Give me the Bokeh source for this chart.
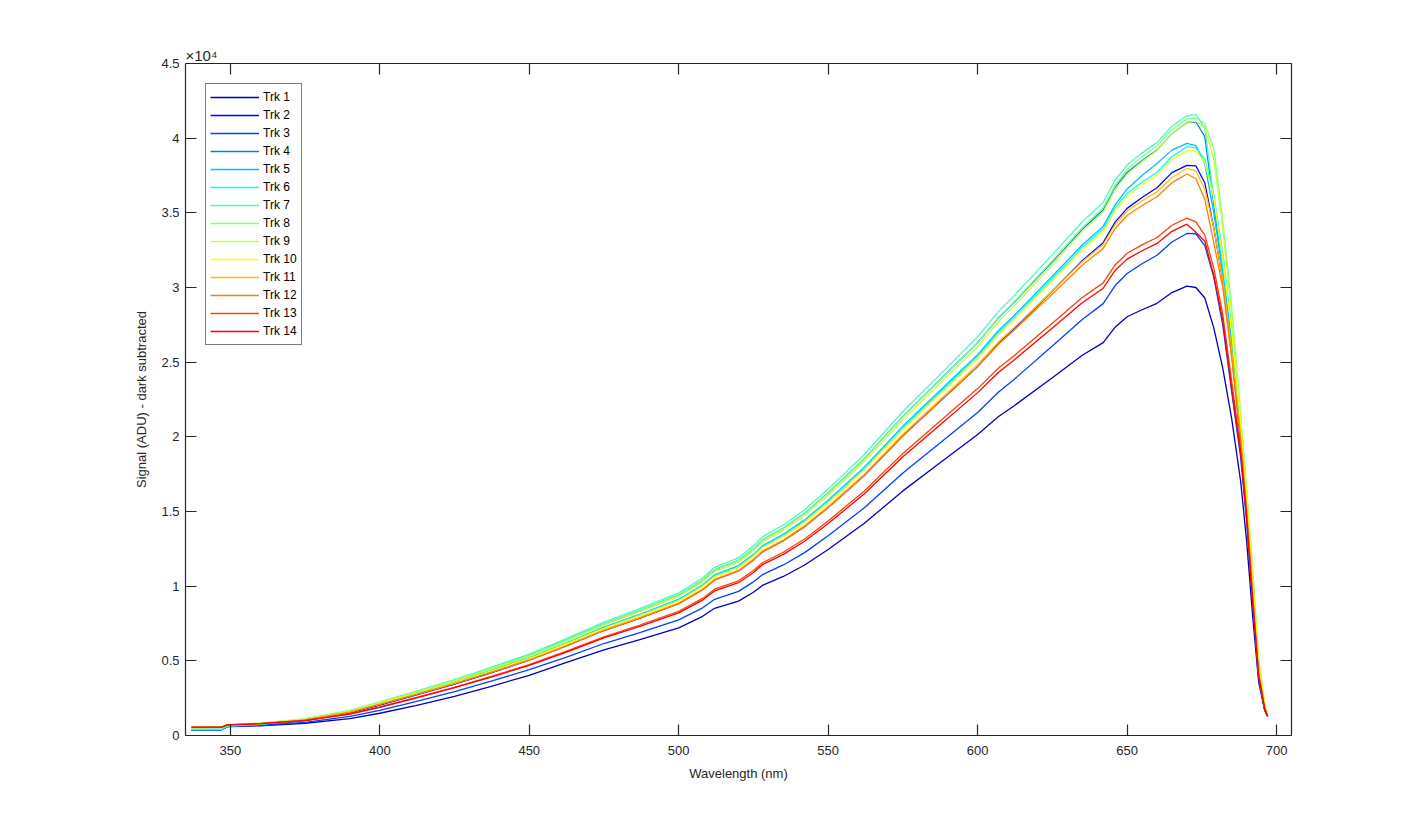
from bokeh.plotting import figure
from bokeh.models import LinearAxis, FixedTicker, Legend, LegendItem, Range1d, Title
from bokeh.embed import file_html
from bokeh.resources import INLINE

wl = [337, 347, 349, 360, 375, 390, 400, 412, 425, 437, 450, 462, 475, 487, 500, 508, 512, 520, 525, 528,
      535, 542, 550, 562, 575, 587, 600, 607, 612, 625, 635, 642, 646, 650, 655, 660, 665, 670,
      673, 676, 679, 682, 685, 688, 690, 692, 694, 696, 697]

trk1 = [375, 385, 590, 650, 820, 1130, 1490, 2000, 2620, 3280, 4030, 4870, 5740, 6420, 7210, 7980, 8520, 9000, 9590, 10050,
        10650, 11400, 12460, 14190, 16380, 18200, 20160, 21360, 22050, 23960, 25460, 26310, 27340, 28040, 28510, 28940, 29660, 30090,
        30000, 29300, 27300, 24600, 21200, 17000, 13000, 8000, 3600, 1700, 1250]
trk2 = [380, 390, 610, 720, 1000, 1520, 2040, 2700, 3440, 4180, 5040, 5970, 7030, 7860, 8830, 9760, 10420, 11020, 11750, 12300,
        13040, 13970, 15260, 17390, 20070, 22290, 24700, 26260, 27190, 29770, 31800, 33000, 34380, 35300, 36030, 36680, 37690, 38180,
        38150, 37000, 34000, 30500, 25500, 19700, 15000, 9400, 4100, 1800, 1300]
trk3 = [385, 395, 600, 680, 880, 1280, 1690, 2270, 2940, 3620, 4410, 5220, 6160, 6890, 7740, 8550, 9120, 9650, 10290, 10770,
        11420, 12230, 13370, 15230, 17580, 19520, 21630, 23000, 23810, 26080, 27860, 28920, 30130, 30940, 31590, 32160, 33050, 33620,
        33600, 32800, 30700, 27500, 23000, 18600, 14300, 8900, 3900, 1750, 1280]
trk4 = [390, 400, 640, 760, 1080, 1640, 2200, 2900, 3690, 4480, 5370, 6350, 7490, 8370, 9410, 10390, 11090, 11730, 12510, 13100,
        13890, 14870, 16250, 18520, 21370, 23740, 26300, 27980, 28960, 31720, 33900, 35190, 36700, 37700, 38500, 39200, 40300, 41050,
        41100, 40100, 35600, 31200, 26500, 20700, 16000, 10200, 4500, 1950, 1350]
trk5 = [390, 400, 630, 740, 1050, 1580, 2130, 2800, 3580, 4350, 5200, 6160, 7260, 8120, 9120, 10080, 10760, 11380, 12130, 12700,
        13470, 14420, 15760, 17950, 20720, 23020, 25500, 27120, 28080, 30750, 32850, 34090, 35530, 36600, 37500, 38300, 39200, 39650,
        39500, 38300, 35000, 31000, 26000, 20200, 15500, 9900, 4400, 1900, 1300]
trk6 = [400, 410, 630, 740, 1050, 1580, 2120, 2790, 3560, 4320, 5180, 6130, 7220, 8080, 9070, 10030, 10700, 11310, 12070, 12640,
        13400, 14350, 15680, 17860, 20620, 22900, 25370, 26980, 27930, 30590, 32680, 33920, 35340, 36290, 37050, 37720, 38760, 39430,
        39350, 38600, 36200, 32300, 27300, 21000, 16300, 10500, 4700, 2000, 1350]
trk7 = [450, 460, 680, 800, 1120, 1680, 2250, 2950, 3750, 4550, 5450, 6450, 7600, 8500, 9550, 10550, 11260, 11900, 12700, 13300,
        14100, 15100, 16500, 18800, 21700, 24100, 26700, 28400, 29400, 32200, 34400, 35700, 37200, 38200, 39000, 39700, 40800, 41500,
        41600, 40700, 36000, 31500, 27000, 21000, 16200, 10400, 4600, 2000, 1350]
trk8 = [540, 550, 720, 830, 1110, 1660, 2220, 2910, 3690, 4480, 5370, 6350, 7490, 8370, 9410, 10390, 11090, 11730, 12510, 13100,
        13890, 14870, 16250, 18520, 21370, 23740, 26300, 28000, 29000, 31800, 34000, 35350, 36850, 37900, 38750, 39480, 40580, 41290,
        41350, 41000, 39300, 34500, 28700, 21500, 16500, 11200, 5200, 2200, 1400]
trk9 = [545, 555, 725, 830, 1100, 1650, 2200, 2880, 3660, 4440, 5310, 6290, 7410, 8290, 9310, 10290, 10980, 11600, 12380, 12970,
        13750, 14720, 16090, 18330, 21160, 23500, 26030, 27720, 28720, 31520, 33740, 35060, 36560, 37590, 38430, 39180, 40300, 41060,
        41150, 40700, 38600, 34000, 28300, 21300, 16400, 11000, 5100, 2200, 1400]
trk10 = [530, 540, 700, 800, 1070, 1600, 2140, 2790, 3540, 4300, 5150, 6100, 7180, 8030, 9020, 9970, 10640, 11250, 12000, 12570,
         13320, 14270, 15590, 17770, 20510, 22770, 25230, 26840, 27780, 30430, 32510, 33740, 35150, 36100, 36860, 37520, 38560, 39140,
         39150, 38400, 36000, 32000, 27000, 20800, 16000, 10200, 4600, 2000, 1350]
trk11 = [535, 545, 700, 790, 1050, 1570, 2100, 2750, 3490, 4230, 5070, 6000, 7070, 7910, 8880, 9810, 10470, 11070, 11810, 12370,
         13110, 14040, 15350, 17480, 20180, 22410, 24830, 26370, 27270, 29770, 31730, 32880, 34220, 35120, 35810, 36400, 37370, 37970,
         37800, 36600, 34000, 30500, 25800, 20000, 15200, 9600, 4300, 1900, 1300]
trk12 = [540, 550, 705, 790, 1040, 1560, 2080, 2730, 3470, 4210, 5040, 5970, 7030, 7860, 8830, 9760, 10420, 11020, 11750, 12300,
         13040, 13970, 15260, 17390, 20070, 22290, 24700, 26210, 27100, 29570, 31490, 32620, 33950, 34820, 35490, 36080, 37020, 37600,
         37300, 35900, 33000, 30000, 25300, 19800, 15000, 9500, 4200, 1900, 1300]
trk13 = [550, 560, 715, 790, 1010, 1450, 1910, 2540, 3230, 3940, 4740, 5610, 6610, 7400, 8310, 9180, 9800, 10360, 11050, 11570,
         12270, 13140, 14360, 16360, 18880, 20970, 23230, 24610, 25400, 27610, 29330, 30310, 31510, 32290, 32850, 33350, 34170, 34650,
         34400, 33500, 31300, 28200, 23700, 19200, 14800, 9200, 4100, 1800, 1300]
trk14 = [556, 566, 716, 790, 1000, 1430, 1890, 2500, 3200, 3900, 4690, 5550, 6540, 7310, 8210, 9070, 9680, 10230, 10920, 11440,
         12130, 12990, 14190, 16170, 18660, 20730, 22960, 24320, 25110, 27290, 28980, 29950, 31140, 31900, 32460, 32950, 33760, 34240,
         33700, 33100, 30800, 27800, 23200, 18900, 14500, 9000, 4000, 1800, 1300]

series = [trk1, trk2, trk3, trk4, trk5, trk6, trk7, trk8, trk9, trk10, trk11, trk12, trk13, trk14]
names = ["Trk %d" % (i + 1) for i in range(14)]
colors = ["#0000BF", "#0000FF", "#0040FF", "#0080FF", "#00BFFF", "#00FFFF", "#40FFBF",
          "#80FF80", "#BFFF40", "#FFFF00", "#FFBF00", "#FF8000", "#FF4000", "#FF0000"]

x_ticks = [350, 400, 450, 500, 550, 600, 650, 700]
y_ticks = [0, 5000, 10000, 15000, 20000, 25000, 30000, 35000, 40000, 45000]
y_tick_labels = ["0", "0.5", "1", "1.5", "2", "2.5", "3", "3.5", "4", "4.5"]
exponent_text = "\u00d710\u2074"

AX = "#262626"
FONT = "Liberation Sans"

p = figure(width=1409, height=809, output_backend="svg", toolbar_location=None,
           x_range=Range1d(335, 705), y_range=Range1d(0, 45000),
           min_border_left=185, min_border_right=118, min_border_top=63, min_border_bottom=74,
           x_axis_location=None, y_axis_location=None)
p.grid.visible = False
p.outline_line_color = None
p.background_fill_color = "white"
p.border_fill_color = "white"

p.title = Title(text=exponent_text, align="left", offset=0, standoff=0,
                text_font=FONT, text_font_size="15px", text_font_style="normal", text_color=AX)


def style_axis(ax, ticks, show_labels):
    ax.ticker = FixedTicker(ticks=ticks)
    ax.major_tick_in = 11
    ax.major_tick_out = 0
    ax.minor_tick_line_color = None
    ax.axis_line_color = AX
    ax.axis_line_width = 1.2
    ax.major_tick_line_color = AX
    ax.major_tick_line_width = 1.2
    ax.major_label_text_font = FONT
    ax.major_label_text_color = AX
    ax.major_label_text_font_size = "13px"
    if not show_labels:
        ax.major_label_text_alpha = 0
        ax.major_label_standoff = 0
    ax.axis_label_text_font = FONT
    ax.axis_label_text_font_size = "13px"
    ax.axis_label_text_font_style = "normal"
    ax.axis_label_text_color = AX


xb = LinearAxis(axis_label="Wavelength (nm)")
style_axis(xb, x_ticks, True)
xb.major_label_standoff = 10
xb.axis_label_standoff = 8
p.add_layout(xb, "below")

yl = LinearAxis(axis_label="Signal (ADU) - dark subtracted")
style_axis(yl, y_ticks, True)
yl.major_label_overrides = {t: s for t, s in zip(y_ticks, y_tick_labels)}
yl.major_label_standoff = 6
yl.axis_label_standoff = 9
p.add_layout(yl, "left")

xt = LinearAxis()
style_axis(xt, x_ticks, False)
xt.major_label_overrides = {t: "" for t in x_ticks}
p.add_layout(xt, "above")

yr = LinearAxis()
style_axis(yr, y_ticks, False)
yr.major_label_overrides = {t: "" for t in y_ticks}
p.add_layout(yr, "right")

items = []
for name, ys, c in zip(names, series, colors):
    r = p.line(wl, ys, line_color=c, line_width=1.3)
    items.append(LegendItem(label=name, renderers=[r]))

legend = Legend(items=items, location="top_left", margin=20, padding=4, spacing=0,
                glyph_width=49, glyph_height=18, label_height=18, label_standoff=4,
                label_text_font=FONT, label_text_font_size="12px", label_text_color="black",
                border_line_color="black", border_line_width=1.5,
                background_fill_color="white", background_fill_alpha=1.0)
p.add_layout(legend)

open("out.html", "w").write(file_html(p, INLINE))
